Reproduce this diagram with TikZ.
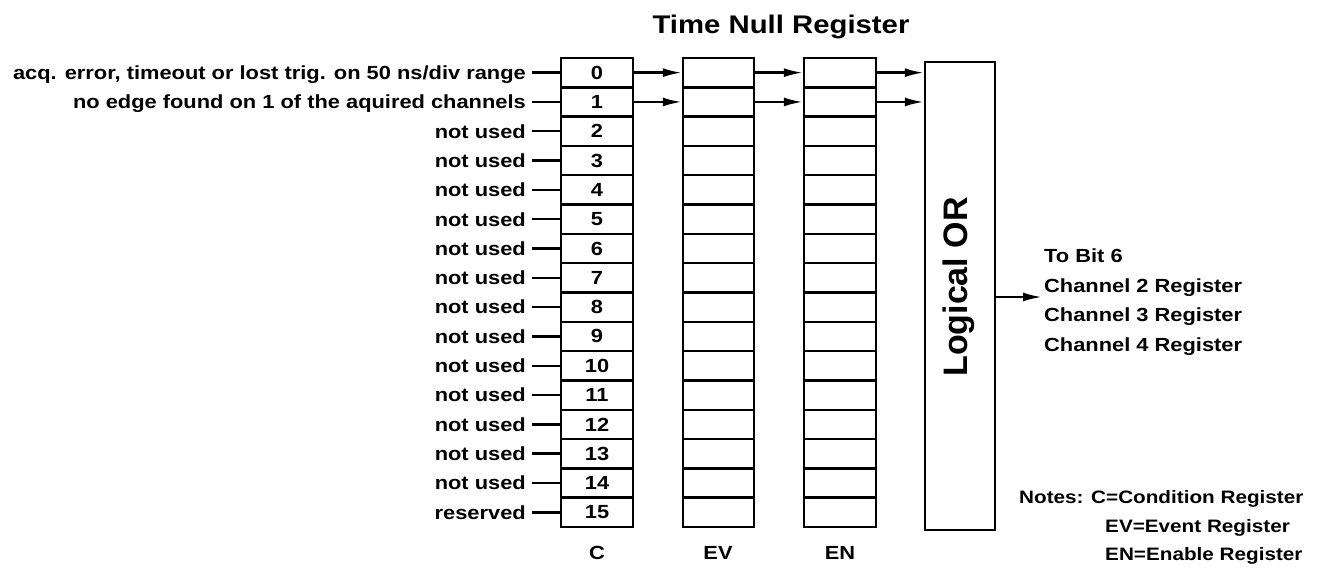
\documentclass[tikz,border=0pt]{standalone}
\usepackage{fontspec}
\setmainfont{Liberation Sans}[FakeStretch=1.15,UprightFont=* Bold]
\newfontfamily\orfont{Liberation Sans Bold}
\usetikzlibrary{arrows.meta}
\begin{document}
\begin{tikzpicture}[x=1pt,y=-1pt,line width=2.4pt,
  cell/.style={draw,minimum width=72pt,minimum height=29.31pt,inner sep=0pt,font=\fontsize{19}{19}\selectfont},
  lab/.style={inner ysep=0pt,inner xsep=5pt,text height=13.6pt,text depth=0pt,font=\fontsize{19}{19}\selectfont},
  rtxt/.style={inner sep=0pt,anchor=west,text height=13.6pt,text depth=0pt,font=\fontsize{19}{19}\selectfont},
  note/.style={rtxt,font=\fontsize{18}{18}\selectfont},
  arr/.style={-{Latex[length=19pt,width=9pt]}}]
\useasboundingbox (0,0) rectangle (1329,567);
% title
\node[inner sep=0pt,font=\fontsize{25.5}{25.5}\selectfont] (title) at (781,27) {Time Null Register};
% registers
\foreach \i in {0,...,15}{
  \node[cell] (c\i) at (597,{58+29.31*(\i+0.5)}) {\i};
  \node[cell,minimum width=71pt] (ev\i) at (718.5,{58+29.31*(\i+0.5)}) {};
  \node[cell] (en\i) at (840,{58+29.31*(\i+0.5)}) {};
}
\node[draw,minimum width=70pt,minimum height=468pt,inner sep=0pt] (or) at (960,296) {};
\node[rotate=90,inner sep=0pt,font=\orfont\fontsize{34}{34}\selectfont] (ortext) at (959,287) {Logical OR};
% left labels
\node[lab,anchor=east] (l0) at (532,{58+29.31*0.5}) {acq. error, timeout or lost trig. on 50 ns/div range};
\node[lab,anchor=east] (l1) at (532,{58+29.31*1.5}) {no edge found on 1 of the aquired channels};
\foreach \i in {2,...,14}{
  \node[lab,anchor=east] (l\i) at (532,{58+29.31*(\i+0.5)}) {not used};
}
\node[lab,anchor=east] (l15) at (532,{58+29.31*15.5}) {reserved};
\foreach \i in {0,...,15}{ \draw (l\i.east) -- (c\i.west); }
% arrows
\foreach \i in {0,1}{
  \draw[arr] (c\i.east) -- (ev\i.west);
  \draw[arr] (ev\i.east) -- (en\i.west);
  \draw[arr] (en\i.east) -- (en\i.east -| or.west);
}
\coordinate (outtip) at (1042,297);
\draw[arr] (or.east |- outtip) -- (outtip);
% right texts
\node[rtxt] (to) at (1043,256) {To Bit 6};
\node[rtxt] (ch2) at (1043,285.5) {Channel 2 Register};
\node[rtxt] (ch3) at (1043,315) {Channel 3 Register};
\node[rtxt] (ch4) at (1043,344.5) {Channel 4 Register};
% bottom labels
\node[rtxt,anchor=center] (lc) at (597,553) {C};
\node[rtxt,anchor=center] (lev) at (718,553) {EV};
\node[rtxt,anchor=center] (len) at (840,553) {EN};
% notes
\node[note] (notes) at (1018,497) {Notes:};
\node[note] (n1) at (1090,497) {C=Condition Register};
\node[note] (n2) at (1104,526) {EV=Event Register};
\node[note] (n3) at (1104,554) {EN=Enable Register};
\end{tikzpicture}
\end{document}
